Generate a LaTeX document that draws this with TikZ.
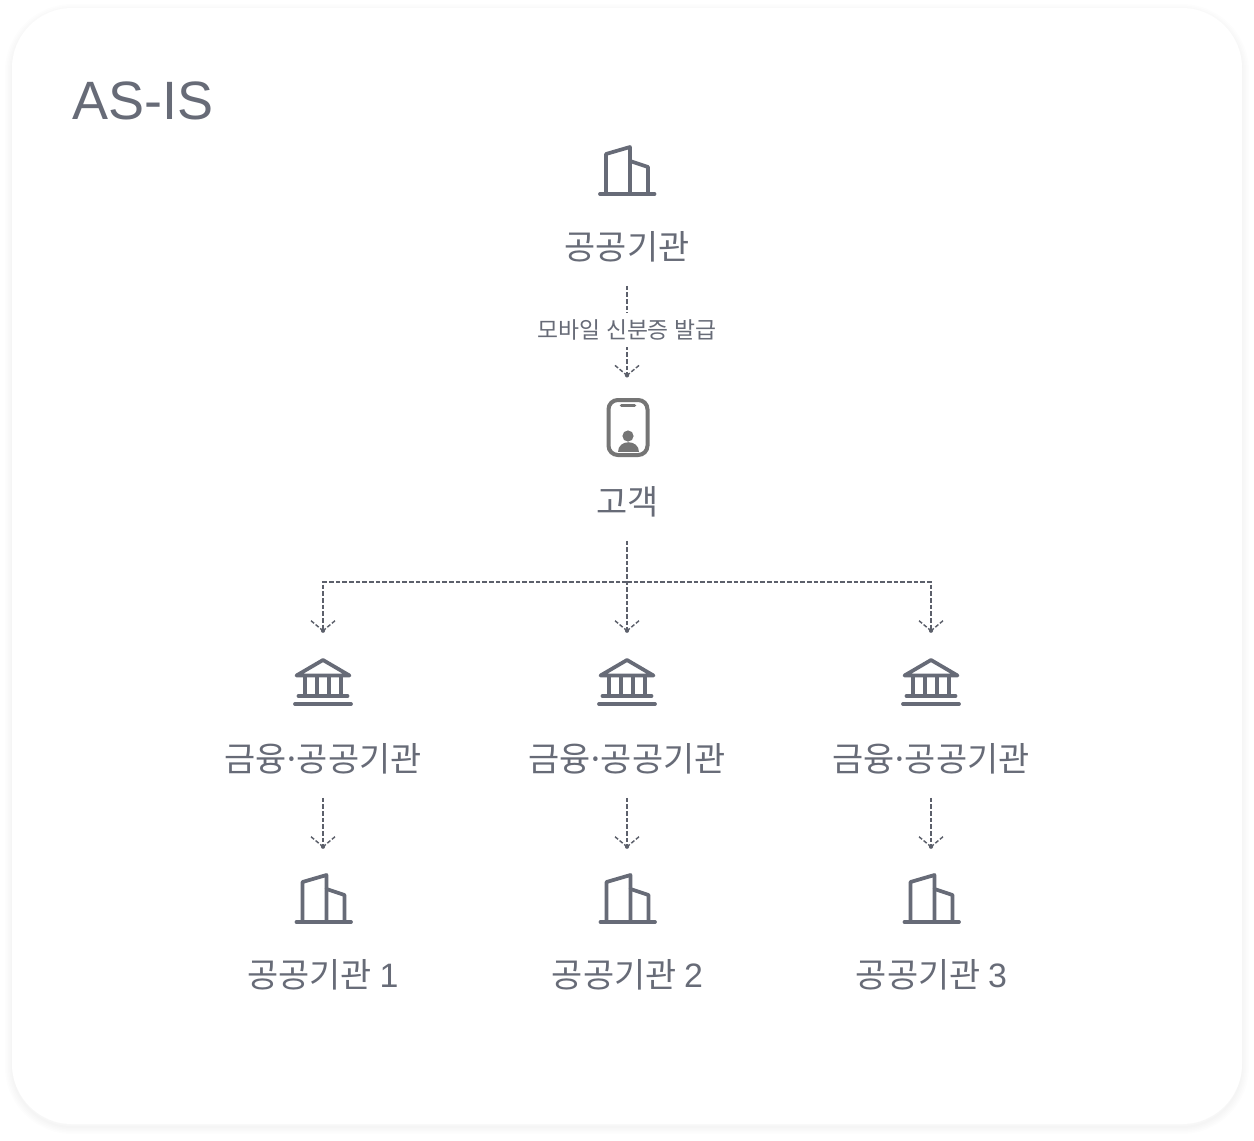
\documentclass[tikz,border=0pt]{standalone}
\usepackage{fontspec}
\setmainfont{Noto Sans CJK KR}
\newfontfamily\latinfont{Liberation Sans}
\definecolor{inkgray}{HTML}{676B77}
\definecolor{dashgray}{HTML}{5C606B}
\definecolor{phonegray}{HTML}{757575}
\newcommand{\finname}{금융\kern-3.3pt·\kern-3.3pt공공기관}
\tikzset{
	dashline/.style={dashgray, line width=1.1pt, dash pattern=on 3.4pt off 1.6pt},
	iconline/.style={inkgray, line width=2.8pt, line cap=round, line join=round},
	iconbox/.style={inner sep=0pt, minimum width=45pt},
	biglabel/.style={inkgray, font=\fontsize{25.4pt}{30pt}\selectfont, inner sep=0pt, minimum height=58.5pt},
	steplabel/.style={inkgray, fill=white, font=\fontsize{17.1pt}{20pt}\selectfont, inner sep=0pt, minimum height=26pt, minimum width=140pt},
	headtip/.pic={
		\draw[dashgray, line width=1.1pt, dash pattern=on 3pt off 1.5pt] (-12,-10)--(0,0);
		\draw[dashgray, line width=1.1pt, dash pattern=on 3pt off 1.5pt] (12,-10)--(0,0);
		\fill[dashgray] (0,0) circle (2.1);
	},
	buildingicon/.pic={
		\draw[iconline] (-27,37)--(27.5,37);
		\draw[iconline] (-21,37)--(-21,-3)--(3,-10)--(3,37);
		\draw[iconline] (3,4)--(21,10)--(21,37);
	},
	bankicon/.pic={
		\draw[iconline] (-26.5,-6.5)--(0,-22)--(26.5,-6.5)--cycle;
		\foreach \colx in {-18,-6,6,18}
			\draw[iconline, line cap=butt] (\colx,-6.5)--(\colx,14);
		\draw[iconline] (-24.5,14)--(24.5,14);
		\draw[iconline] (-28,22)--(28,22);
	},
	phoneicon/.pic={
		\draw[phonegray, line width=3pt, rounded corners=7] (-19.5,-28)rectangle(19.5,27);
		\draw[phonegray, line width=2.7pt, line cap=round] (-6.5,-22.5)--(6.5,-22.5);
		\fill[phonegray] (0,8) circle (5.6);
		\fill[phonegray] (-10.5,23.5) .. controls (-10.5,10.5) and (10.5,10.5) .. (10.5,23.5) -- cycle;
	},
}
\begin{document}
\begin{tikzpicture}[x=0.75pt, y=-0.75pt]
	\useasboundingbox (0,0) rectangle (1254,1140);
	% soft card edge
	\foreach \spread in {14,11,8,5,2}
		\draw[black, opacity=.008, line width=\spread*.75pt, rounded corners=45] (12,11) rectangle (1242,1127);
	\fill[white, rounded corners=45] (12,8) rectangle (1242,1124);

	\node[inkgray, anchor=base west, inner sep=0pt, font=\latinfont\fontsize{40.5pt}{48pt}\selectfont] (title) at (72,119.5) {AS-IS};

	\node[biglabel] (orglabel) at (627,246.5) {공공기관};
	\pic at (627,157) {buildingicon};

	\node[iconbox, minimum height=77pt] (phone) at (628,427) {};
	\pic at (628,428) {phoneicon};
	\node[biglabel] (custlabel) at (627.5,501.5) {고객};

	\draw[dashline] (orglabel.south) -- (orglabel.south |- phone.north);
	\pic at (orglabel.south |- phone.north) {headtip};
	\node[steplabel] (steplabel) at (627,330) {모바일 신분증 발급};

	\coordinate (branch) at (627,582);

	\node[iconbox, minimum height=75pt] (bank1) at (323,681) {};
	\node[iconbox, minimum height=75pt] (bank2) at (627,681) {};
	\node[iconbox, minimum height=75pt] (bank3) at (931,681) {};
	\pic at (323,682) {bankicon};
	\pic at (627,682) {bankicon};
	\pic at (931,682) {bankicon};

	\draw[dashline] (custlabel.south -| branch) -- (bank2.north);
	\draw[dashline] (branch) -| (bank1.north);
	\draw[dashline] (branch) -| (bank3.north);
	\pic at (bank1.north) {headtip};
	\pic at (bank2.north) {headtip};
	\pic at (bank3.north) {headtip};

	\node[biglabel] (finlabel1) at (323,758.5) {\finname};
	\node[biglabel] (finlabel2) at (627,758.5) {\finname};
	\node[biglabel] (finlabel3) at (931,758.5) {\finname};

	\node[iconbox, minimum height=55.5pt] (org1) at (323,884) {};
	\node[iconbox, minimum height=55.5pt] (org2) at (627,884) {};
	\node[iconbox, minimum height=55.5pt] (org3) at (931,884) {};
	\pic at (323.5,885) {buildingicon};
	\pic at (627.5,885) {buildingicon};
	\pic at (931.5,885) {buildingicon};

	\draw[dashline] (finlabel1.south) -- (org1.north);
	\draw[dashline] (finlabel2.south) -- (org2.north);
	\draw[dashline] (finlabel3.south) -- (org3.north);
	\pic at (org1.north) {headtip};
	\pic at (org2.north) {headtip};
	\pic at (org3.north) {headtip};

	\node[biglabel] (orglabel1) at (323,974.5) {공공기관 {\latinfont 1}};
	\node[biglabel] (orglabel2) at (627.5,974.5) {공공기관 {\latinfont 2}};
	\node[biglabel] (orglabel3) at (931.5,974.5) {공공기관 {\latinfont 3}};
\end{tikzpicture}
\end{document}
